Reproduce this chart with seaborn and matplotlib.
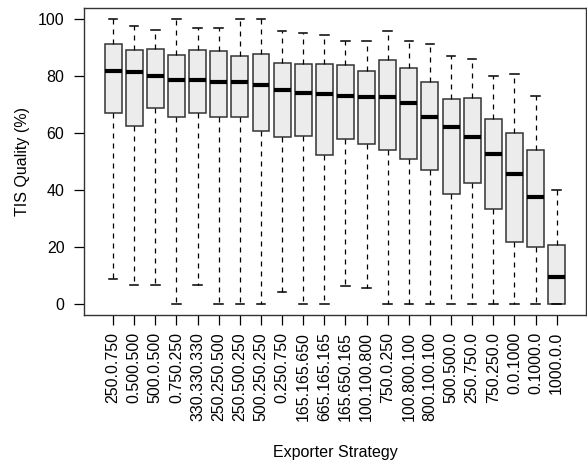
import numpy as np
import pandas as pd
import matplotlib
matplotlib.use("Agg")
import matplotlib.pyplot as plt
import seaborn as sns

strategies = ["250.0.750", "0.500.500", "500.0.500", "0.750.250", "330.330.330",
              "250.250.500", "250.500.250", "500.250.250", "0.250.750", "165.165.650",
              "665.165.165", "165.650.165", "100.100.800", "750.0.250", "100.800.100",
              "800.100.100", "500.500.0", "250.750.0", "750.250.0", "0.0.1000",
              "0.1000.0", "1000.0.0"]

# five-number summaries
lows = [8.7, 6.6, 6.6, 0, 6.6, 0, 0, 0, 4.3, 0, 0, 6.4, 5.6, 0, 0, 0, 0, 0, 0, 0, 0, 0]
q1s = [66.9, 62.6, 68.7, 65.6, 67.0, 65.6, 65.5, 60.7, 58.8, 59.0, 52.3, 58.0, 56.2, 54.2,
       50.8, 47.2, 38.6, 42.5, 33.4, 21.8, 20.0, 0]
medians = [81.9, 81.5, 80.2, 78.6, 78.6, 78.1, 77.8, 76.9, 75.2, 74.1, 73.9, 72.9, 72.6, 72.6,
           70.6, 65.8, 62.2, 58.7, 52.7, 45.7, 37.6, 9.3]
q3s = [91.2, 89.3, 89.7, 87.5, 89.1, 88.8, 87.2, 87.8, 84.8, 84.2, 84.3, 84.1, 81.9, 85.8,
       82.9, 78.0, 72.0, 72.4, 65.1, 60.2, 53.9, 20.6]
highs = [100, 97.7, 96.3, 100, 96.8, 96.8, 100, 100, 95.8, 95.0, 94.6, 92.5, 92.5, 96.0,
         92.5, 91.2, 87.2, 86.2, 80.2, 80.8, 73.2, 40.0]

rows = []
for s, a, b, c, d, e in zip(strategies, lows, q1s, medians, q3s, highs):
    for v in (a, b, c, d, e):
        rows.append({"Strategy": s, "Quality": v})
df = pd.DataFrame(rows)

plt.rcParams['font.family'] = ['Liberation Sans', 'DejaVu Sans']
fig = plt.figure(figsize=(5.87, 4.63), dpi=100)
ax = fig.add_axes([0.143, 0.319, 0.855, 0.664])

sns.boxplot(data=df, x="Strategy", y="Quality", order=strategies, ax=ax,
            whis=(0, 100), width=0.8, color="#ececec", linecolor="#333333",
            linewidth=1.1, saturation=1, showfliers=False,
            medianprops=dict(color="black", linewidth=3, solid_capstyle="butt"),
            whiskerprops=dict(color="black", linewidth=0.9, linestyle=(0, (4, 4))),
            capprops=dict(color="black", linewidth=1.1))

ax.set_xlim(-1.38, 22.38)
ax.set_ylim(-4, 104)
ax.set_yticks([0, 20, 40, 60, 80, 100])
ax.tick_params(axis='x', labelrotation=90, labelsize=11.5, length=7, width=0.9, pad=5)
ax.tick_params(axis='y', labelsize=11.5, length=7, width=0.9, pad=7)
for sp in ax.spines.values():
    sp.set_linewidth(1.0)
    sp.set_color("#333333")
ax.set_xlabel("Exporter Strategy", fontsize=11.5, labelpad=17)
ax.set_ylabel("TIS Quality (%)", fontsize=11.5, labelpad=6)

fig.savefig("out.png", dpi=100)
